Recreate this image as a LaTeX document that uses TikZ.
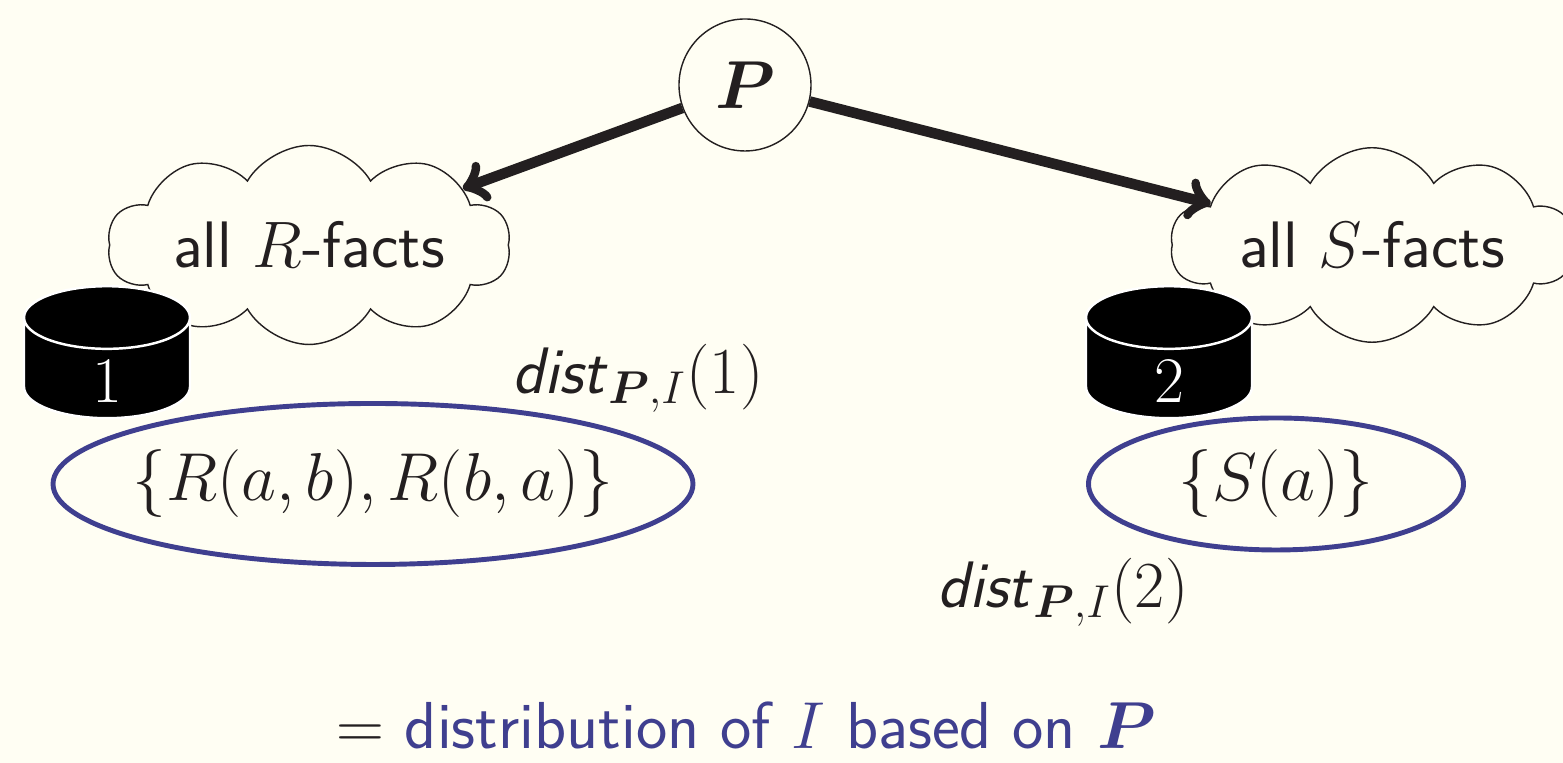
\documentclass[tikz,border=0pt]{standalone}
\usepackage{fix-cm}
\usepackage{amsmath,amssymb,bm}
\usepackage{xcolor}
\usepackage{tikz}
\usetikzlibrary{shapes.geometric,shapes.symbols}
\definecolor{paper}{HTML}{FFFEF3}
\definecolor{ink}{HTML}{231F20}
\definecolor{slideblue}{HTML}{3F3F8F}
\newcommand{\distlabel}[1]{\textsl{dist}$_{\bm{P},I}(#1)$}
\newcommand{\sitenum}[1]{\smash{\raisebox{-0.34cm}{$#1$}}}
\tikzset{
  facts/.style={cloud, cloud puffs=10, cloud puff arc=120, aspect=2.8, draw=ink, line width=0.4pt, fill=paper,
    minimum width=4.03cm, minimum height=1.5cm, inner sep=0pt, text=ink},
  site/.style={cylinder, shape border rotate=90, aspect=2.1, cylinder uses custom fill,
    cylinder end fill=black, cylinder body fill=black, draw=white, line width=0.7pt,
    minimum width=1.66cm, minimum height=1.32cm, inner sep=0pt, text=white, font=\fontsize{18.5}{22}\selectfont},
  chunk/.style={ellipse, draw=slideblue, line width=1.4pt, inner sep=0pt, text=ink, font=\fontsize{19.3}{23}\selectfont},
  link/.style={->, line width=3pt, draw=ink}
}
\begin{document}
\begin{tikzpicture}[font=\fontsize{18.7}{22}\selectfont\sffamily]
  \fill[paper] (0,0) rectangle (15.63,7.63);
  \useasboundingbox (0,0) rectangle (15.63,7.63);
  \node[circle, draw=ink, fill=paper, line width=0.4pt, minimum size=1.32cm, inner sep=0pt, text=ink, font=\fontsize{19.3}{23}\selectfont] (P) at (7.45,6.78) {$\bm{P}$};
  \node[facts] (Rcloud) at (3.09,5.18) {all $R$-facts};
  \node[facts] (Scloud) at (13.72,5.18) {all $S$-facts};
  \node[site] (site1) at (1.07,3.945) {\sitenum{1}};
  \node[site] (site2) at (11.69,3.945) {\sitenum{2}};
  \draw[link] (P) -- (Rcloud);
  \draw[link] (P) -- (Scloud);
  \node[chunk, minimum width=6.4cm, minimum height=1.61cm] (Rchunk) at (3.73,2.79) {\makebox[0pt]{$\{R(a,b),R(b,a)\}$}};
  \node[chunk, minimum width=3.75cm, minimum height=1.32cm] (Schunk) at (12.76,2.79) {\makebox[0pt]{$\{S(a)\}$}};
  \node[text=ink] (dist1) at (6.38,3.85) {\distlabel{1}};
  \node[text=ink] (dist2) at (10.63,1.71) {\distlabel{2}};
  \node[text=slideblue, font=\fontsize{18.9}{23}\selectfont\sffamily] (caption) at (7.46,0.38) {\textcolor{ink}{$=$} distribution of $I$ based on $\bm{P}$};
\end{tikzpicture}
\end{document}
